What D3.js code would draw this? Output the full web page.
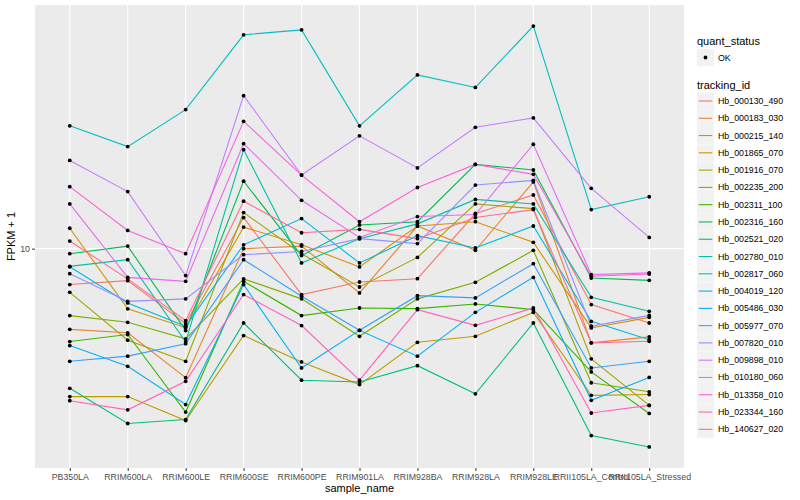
<!DOCTYPE html>
<html>
<head>
<meta charset="utf-8">
<script src="https://cdn.jsdelivr.net/npm/d3@7"></script>
<style>
  body { margin: 0; background: #fff; }
  text { font-family: "Liberation Sans", Arial, Helvetica, sans-serif; }
</style>
</head>
<body>
<svg id="chart" width="800" height="500"></svg>
<script>
// samples on the x axis
const samples = ['PB350LA', 'RRIM600LA', 'RRIM600LE', 'RRIM600SE', 'RRIM600PE', 'RRIM901LA',
    'RRIM928BA', 'RRIM928LA', 'RRIM928LE', 'RRII105LA_Control', 'RRII105LA_Stressed'];

const trackingIds = ['Hb_000130_490', 'Hb_000183_030', 'Hb_000215_140', 'Hb_001865_070', 'Hb_001916_070',
    'Hb_002235_200', 'Hb_002311_100', 'Hb_002316_160', 'Hb_002521_020', 'Hb_002780_010',
    'Hb_002817_060', 'Hb_004019_120', 'Hb_005486_030', 'Hb_005977_070', 'Hb_007820_010',
    'Hb_009898_010', 'Hb_010180_060', 'Hb_013358_010', 'Hb_023344_160', 'Hb_140627_020'];

// ggplot default hue palette for 20 groups
const colors = ['#F8766D', '#EA8331', '#D89000', '#C09B00', '#A3A500', '#7CAE00', '#39B600', '#00BB4E',
    '#00BF7D', '#00C1A3', '#00BFC4', '#00BAE0', '#00B0F6', '#35A2FF', '#9590FF', '#C77CFF',
    '#E76BF3', '#FA62DB', '#FF62BC', '#FF6C91'];

// FPKM + 1 per sample
const hb_000130_490 = [7.59, 7.82, 5.62, 12.7, 7.03, 7.74, 7.94, 13.1, 15.1, 6.51, 5.65];
const hb_000183_030 = [5.38, 5.24, 3.71, 10.0, 10.2, 7.12, 11.9, 9.87, 16.7, 4.85, 5.08];
const hb_000215_140 = [11.7, 6.30, 5.45, 11.8, 10.3, 8.69, 11.9, 12.3, 10.5, 5.44, 5.90];
const hb_001865_070 = [3.21, 3.21, 2.67, 5.13, 4.19, 3.52, 4.87, 5.10, 6.13, 3.24, 3.26];
const hb_001916_070 = [7.15, 4.95, 4.21, 13.2, 9.62, 7.45, 9.35, 14.1, 13.6, 4.29, 3.00];
const hb_002235_200 = [5.98, 5.68, 5.00, 7.93, 6.80, 5.10, 6.80, 7.72, 9.87, 3.57, 3.33];
const hb_002311_100 = [4.90, 5.17, 2.85, 7.78, 5.98, 6.34, 6.31, 6.54, 6.26, 3.88, 2.82];
const hb_002316_160 = [9.62, 10.2, 5.33, 16.8, 9.48, 12.0, 12.3, 19.1, 18.3, 7.98, 7.84];
const hb_002521_020 = [3.42, 2.61, 2.69, 5.65, 3.64, 3.59, 4.07, 3.28, 5.65, 2.38, 2.18];
const hb_002780_010 = [8.73, 9.19, 4.89, 21.4, 8.96, 10.8, 12.1, 14.6, 14.1, 6.88, 6.18];
const hb_002817_060 = [25.7, 21.9, 29.1, 51.7, 53.7, 25.7, 38.0, 34.5, 55.3, 13.5, 14.9];
const hb_004019_120 = [8.70, 6.59, 5.51, 10.3, 12.6, 8.96, 11.05, 10.05, 11.9, 5.72, 4.97];
const hb_005486_030 = [4.75, 4.05, 3.02, 7.59, 4.00, 5.34, 4.38, 6.13, 8.02, 3.12, 3.72];
const hb_005977_070 = [4.21, 4.38, 4.82, 9.19, 6.94, 5.34, 6.97, 6.85, 8.91, 4.00, 4.21];
const hb_007820_010 = [8.25, 6.67, 6.80, 9.55, 9.79, 10.8, 10.4, 16.3, 16.9, 5.51, 5.99];
const hb_009898_010 = [19.7, 15.5, 8.13, 32.4, 17.6, 23.8, 18.6, 25.4, 27.3, 15.9, 10.9];
const hb_010180_060 = [14.1, 8.02, 7.78, 22.4, 14.5, 10.9, 12.8, 13.0, 22.3, 8.19, 8.30];
const hb_013358_010 = [16.1, 11.5, 9.62, 26.6, 17.6, 12.3, 16.0, 19.1, 17.7, 8.09, 8.23];
const hb_023344_160 = [3.11, 2.90, 3.61, 7.03, 5.54, 3.64, 6.26, 5.55, 6.34, 2.83, 3.00];
const hb_140627_020 = [10.6, 7.93, 5.75, 14.4, 11.3, 11.6, 10.8, 12.7, 13.5, 4.85, 4.91];

const yBreaks = [10];

const fpkm = [hb_000130_490, hb_000183_030, hb_000215_140, hb_001865_070, hb_001916_070,
    hb_002235_200, hb_002311_100, hb_002316_160, hb_002521_020, hb_002780_010,
    hb_002817_060, hb_004019_120, hb_005486_030, hb_005977_070, hb_007820_010,
    hb_009898_010, hb_010180_060, hb_013358_010, hb_023344_160, hb_140627_020];

const series = trackingIds.map((id, i) => ({
    id: id,
    color: colors[i],
    values: fpkm[i].map((v, j) => ({ sample: samples[j], value: v }))
}));

const svg = d3.select('#chart');
const panel = { left: 35, right: 684, top: 5, bottom: 468 };

const x = d3.scalePoint()
    .domain(samples)
    .range([panel.left, panel.right])
    .padding(0.6);

// log scale with ggplot's 5% expansion on the log range
const all = fpkm.flat();
const lo = Math.log10(d3.min(all)), hi = Math.log10(d3.max(all));
const pad = (hi - lo) * 0.05;
const y = d3.scaleLog()
    .domain([Math.pow(10, lo - pad), Math.pow(10, hi + pad)])
    .range([panel.bottom, panel.top]);

// panel background and grid
svg.append('rect')
    .attr('x', panel.left).attr('y', panel.top)
    .attr('width', panel.right - panel.left)
    .attr('height', panel.bottom - panel.top)
    .attr('fill', '#EBEBEB');

svg.selectAll('.vgrid')
    .data(samples)
    .enter()
    .append('line')
    .attr('x1', d => x(d)).attr('x2', d => x(d))
    .attr('y1', panel.top).attr('y2', panel.bottom)
    .attr('stroke', '#fff').attr('stroke-width', 1.1);

svg.selectAll('.hgrid')
    .data(yBreaks)
    .enter()
    .append('line')
    .attr('x1', panel.left).attr('x2', panel.right)
    .attr('y1', d => y(d)).attr('y2', d => y(d))
    .attr('stroke', '#fff').attr('stroke-width', 1.1);

// lines
const line = d3.line()
    .x(d => x(d.sample))
    .y(d => y(d.value));

svg.selectAll('.series')
    .data(series)
    .enter()
    .append('path')
    .attr('d', d => line(d.values))
    .attr('fill', 'none')
    .attr('stroke', d => d.color)
    .attr('stroke-width', 1.1);

// points
svg.selectAll('.pts')
    .data(series.flatMap(s => s.values))
    .enter()
    .append('circle')
    .attr('cx', d => x(d.sample))
    .attr('cy', d => y(d.value))
    .attr('r', 1.9)
    .attr('fill', '#000');

// axes
const xAxis = svg.append('g')
    .attr('transform', `translate(0,${panel.bottom})`)
    .call(d3.axisBottom(x).tickSize(3).tickPadding(3));
const yAxis = svg.append('g')
    .attr('transform', `translate(${panel.left},0)`)
    .call(d3.axisLeft(y).tickValues(yBreaks).tickFormat(d3.format('d')).tickSize(3).tickPadding(2));

[xAxis, yAxis].forEach(a => {
    a.select('.domain').remove();
    a.selectAll('line').attr('stroke', '#333333');
    a.selectAll('text')
        .attr('fill', '#4D4D4D')
        .style('font-size', '8.8px')
        .style('font-family', '"Liberation Sans", Arial, sans-serif');
});

svg.append('text')
    .attr('x', (panel.left + panel.right) / 2)
    .attr('y', 492)
    .attr('text-anchor', 'middle')
    .style('font-size', '11px')
    .text('sample_name');

svg.append('text')
    .attr('transform', `translate(15,${(panel.top + panel.bottom) / 2}) rotate(-90)`)
    .attr('text-anchor', 'middle')
    .style('font-size', '11px')
    .text('FPKM + 1');

// legends
const lx = 697;
svg.append('text').attr('x', lx).attr('y', 45).style('font-size', '11px').text('quant_status');
svg.append('rect').attr('x', lx).attr('y', 49).attr('width', 17).attr('height', 17).attr('fill', '#F2F2F2');
svg.append('circle').attr('cx', lx + 8.5).attr('cy', 57.5).attr('r', 1.9).attr('fill', '#000');
svg.append('text').attr('x', lx + 21).attr('y', 60.5).style('font-size', '8.8px').text('OK');

svg.append('text').attr('x', lx).attr('y', 89).style('font-size', '11px').text('tracking_id');

const keyH = 17.28;
const keys = svg.selectAll('.key')
    .data(series)
    .enter()
    .append('g')
    .attr('transform', (d, i) => `translate(${lx},${92.5 + i * keyH})`);

keys.append('rect')
    .attr('width', 17).attr('height', 17)
    .attr('fill', '#F2F2F2');

keys.append('line')
    .attr('x1', 1.7).attr('x2', 15.3)
    .attr('y1', 8.5).attr('y2', 8.5)
    .attr('stroke', d => d.color)
    .attr('stroke-width', 1.1);

keys.append('text')
    .attr('x', 21).attr('y', 11.5)
    .style('font-size', '8.8px')
    .text(d => d.id);
</script>
</body>
</html>
